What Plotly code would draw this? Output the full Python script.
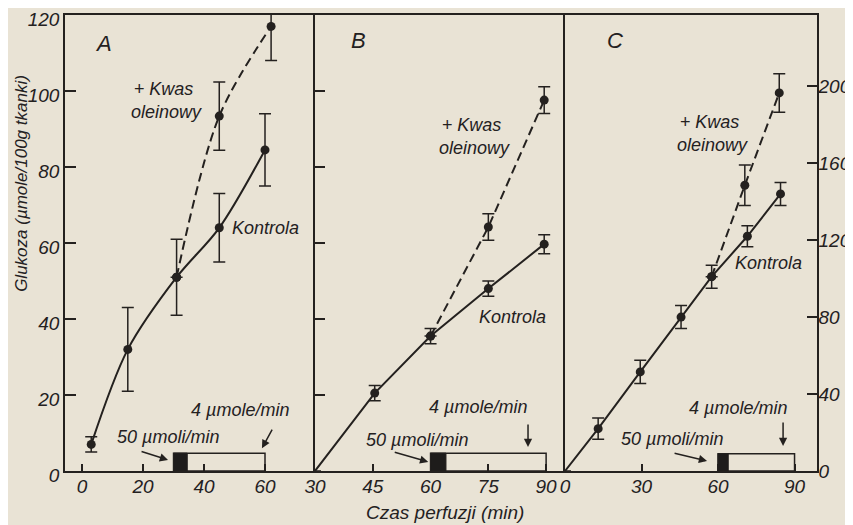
import plotly.graph_objects as go

# ---------------- data ----------------
# Panel A
a_ctrl_x = [3, 15, 31, 45, 60]
a_ctrl_y = [7, 32, 51, 64, 84.5]
a_ctrl_e = [2, 11, 10, 9, 9.5]
a_ole_x = [31, 45, 62]
a_ole_y = [51, 93.4, 117]
a_ole_e = [0, 9, 9]
a_bolus = [30, 34.5]
a_infusion = [30, 60]
a_box_h = 4.7

# Panel B
b_ctrl_x = [30, 45.5, 60, 75, 89.5]
b_ctrl_y = [0, 20.5, 35.5, 48, 59.7]
b_ctrl_e = [0, 2, 2, 2, 2.5]
b_ole_x = [60, 75, 89.5]
b_ole_y = [35.5, 64.2, 97.6]
b_ole_e = [0, 3.5, 3.5]
b_bolus = [60, 64]
b_infusion = [60, 90]
b_box_h = 4.7

# Panel C
c_ctrl_x = [0, 13, 29.5, 45.5, 57.5, 71.5, 84.5]
c_ctrl_y = [0, 22, 51.5, 80, 101, 122, 144]
c_ctrl_e = [0, 5.5, 6, 6, 6, 5.5, 6]
c_ole_x = [57.5, 70.5, 84]
c_ole_y = [101, 148.5, 196.5]
c_ole_e = [0, 10.5, 10]
c_bolus = [60, 64]
c_infusion = [60, 90]
c_box_h = 9

a_xticks = [0, 20, 40, 60]
b_xticks = [30, 45, 60, 75, 90]
c_xticks = [0, 30, 60, 90]
ab_yticks = [0, 20, 40, 60, 80, 100, 120]
b_yticks = [20, 40, 60, 80, 100]
c_yticks = [0, 40, 80, 120, 160, 200]

# ---------------- style ----------------
INK = "#24211f"
BG = "#e9e3d5"
FONT = "Liberation Sans, Arial, sans-serif"

fig = go.Figure()


def add_series(x, y, e, xa, ya, dash, shape, first_marker=True):
    sizes = [9] * len(x)
    if not first_marker:
        sizes[0] = 0
    err = [v if v > 0 else None for v in e]
    fig.add_trace(go.Scatter(
        x=x, y=y, xaxis=xa, yaxis=ya, mode="lines+markers",
        line=dict(color=INK, width=2, dash=dash, shape=shape, smoothing=0.9),
        marker=dict(color=INK, size=sizes, opacity=1, line=dict(width=0)),
        error_y=dict(type="data", array=err, color=INK, thickness=1.5, width=6, visible=True),
        showlegend=False, hoverinfo="skip"))


DASH = "9px,5px"
add_series(a_ole_x, a_ole_y, a_ole_e, "x", "y", DASH, "spline")
add_series(a_ctrl_x, a_ctrl_y, a_ctrl_e, "x", "y", "solid", "spline")
add_series(b_ole_x, b_ole_y, b_ole_e, "x2", "y2", DASH, "linear")
add_series(b_ctrl_x, b_ctrl_y, b_ctrl_e, "x2", "y2", "solid", "linear", first_marker=False)
add_series(c_ole_x, c_ole_y, c_ole_e, "x3", "y3", DASH, "linear")
add_series(c_ctrl_x, c_ctrl_y, c_ctrl_e, "x3", "y3", "solid", "linear", first_marker=False)

# dose boxes
for xr, yr, bol, inf, h in [("x", "y", a_bolus, a_infusion, a_box_h),
                            ("x2", "y2", b_bolus, b_infusion, b_box_h),
                            ("x3", "y3", c_bolus, c_infusion, c_box_h)]:
    fig.add_shape(type="rect", xref=xr, yref=yr, x0=inf[0], x1=inf[1], y0=0, y1=h,
                  line=dict(color=INK, width=1.5), fillcolor="rgba(0,0,0,0)")
    fig.add_shape(type="rect", xref=xr, yref=yr, x0=bol[0], x1=bol[1], y0=0, y1=h,
                  line=dict(color=INK, width=1), fillcolor="#1e1c1b")

tf = dict(family=FONT, size=19, color=INK, style="italic")


def txt(xr, yr, x, y, s, xanchor="center", size=18, align="center"):
    fig.add_annotation(xref=xr, yref=yr, x=x, y=y, text=s, showarrow=False,
                       xanchor=xanchor, yanchor="middle", align=align,
                       font=dict(family=FONT, size=size, color=INK, style="italic"))


def arr(xr, yr, x, y, ax, ay):
    fig.add_annotation(xref=xr, yref=yr, x=x, y=y, ax=ax, ay=ay, text="",
                       showarrow=True, arrowhead=2, arrowsize=1.1, arrowwidth=1.5,
                       arrowcolor=INK)


# Panel A texts
txt("x", "y", 6.9, 112.6, "A", size=22)
txt("x", "y", 26.9, 97.6, "+ Kwas<br> oleinowy")
txt("x", "y", 48.5, 64, "Kontrola", xanchor="left")
txt("x", "y", 28.2, 8.9, "50 µmoli/min")
txt("x", "y", 51.8, 16, "4 µmole/min")
arr("x", "y", 28.2, 2.9, -28, -9)
arr("x", "y", 59.0, 6.0, 11, -20)

# Panel B texts
txt("x2", "y2", 41.4, 113.4, "B", size=22)
txt("x2", "y2", 70.8, 87.9, "+ Kwas<br> oleinowy")
txt("x2", "y2", 72.1, 40.5, "Kontrola", xanchor="left")
txt("x2", "y2", 56.5, 8.2, "50 µmoli/min")
txt("x2", "y2", 72.3, 16.8, "4 µmole/min")
arr("x2", "y2", 59.4, 2.4, -35, -10)
arr("x2", "y2", 85.3, 6.3, 0, -24)

# Panel C texts
txt("x3", "y3", 19.6, 224, "C", size=22)
txt("x3", "y3", 56.9, 175.5, "+ Kwas<br> oleinowy")
txt("x3", "y3", 65.9, 108.3, "Kontrola", xanchor="left")
txt("x3", "y3", 42, 16.7, "50 µmoli/min")
txt("x3", "y3", 67.8, 32.8, "4 µmole/min")
arr("x3", "y3", 55.7, 5.2, -34, -8)
arr("x3", "y3", 85.5, 13, 0, -25)

# axis titles
fig.add_annotation(xref="paper", yref="paper", x=-0.057, y=0.63, text="Glukoza (µmole/100g tkanki)",
                   textangle=-90, showarrow=False, xanchor="center", yanchor="middle",
                   font=dict(family=FONT, size=17, color=INK, style="italic"))
fig.add_annotation(xref="paper", yref="paper", x=0.505, y=-0.09, text="Czas perfuzji (min)",
                   showarrow=False, xanchor="center", yanchor="middle",
                   font=dict(family=FONT, size=19, color=INK, style="italic"))

common = dict(showline=True, linecolor=INK, linewidth=1.5, showgrid=False,
              zeroline=False, ticks="inside", tickcolor=INK, tickwidth=1.5,
              tickfont=tf, automargin=False, fixedrange=True, ticklabeloverflow="allow")

d1 = 250 / 752
d2 = 500 / 752

# the page body adds an 8px offset, so the figure is sized to fit the window
fig.update_layout(
    width=845, height=517,
    margin=dict(l=57, r=36, t=7, b=54),
    paper_bgcolor=BG, plot_bgcolor=BG,
    showlegend=False,
    xaxis=dict(domain=[0, d1], range=[-5.6, 76.4], tickvals=a_xticks, ticklen=7, anchor="y",
               mirror=True, ticklabelstandoff=-3, **common),
    yaxis=dict(domain=[0, 1], range=[0, 120], tickvals=ab_yticks, ticklen=11, anchor="x",
               mirror=False, ticklabelshift=4, **common),
    xaxis2=dict(domain=[d1, d2], range=[30, 94.9], tickvals=b_xticks, ticklen=7, anchor="y2",
                mirror=True, ticklabelstandoff=-3, **common),
    yaxis2=dict(domain=[0, 1], range=[0, 120], tickvals=b_yticks, ticklen=10, anchor="x2",
                showticklabels=False, mirror=False, **common),
    xaxis3=dict(domain=[d2, 1], range=[0, 98.8], tickvals=c_xticks, ticklen=7, anchor="y3",
                mirror=True, ticklabelstandoff=-3, **common),
    yaxis3=dict(domain=[0, 1], range=[0, 237], tickvals=c_yticks, ticklen=10, anchor="x3",
                side="right", mirror=True, ticklabelstandoff=-4, **common),
)

fig.write_html("out.html")
